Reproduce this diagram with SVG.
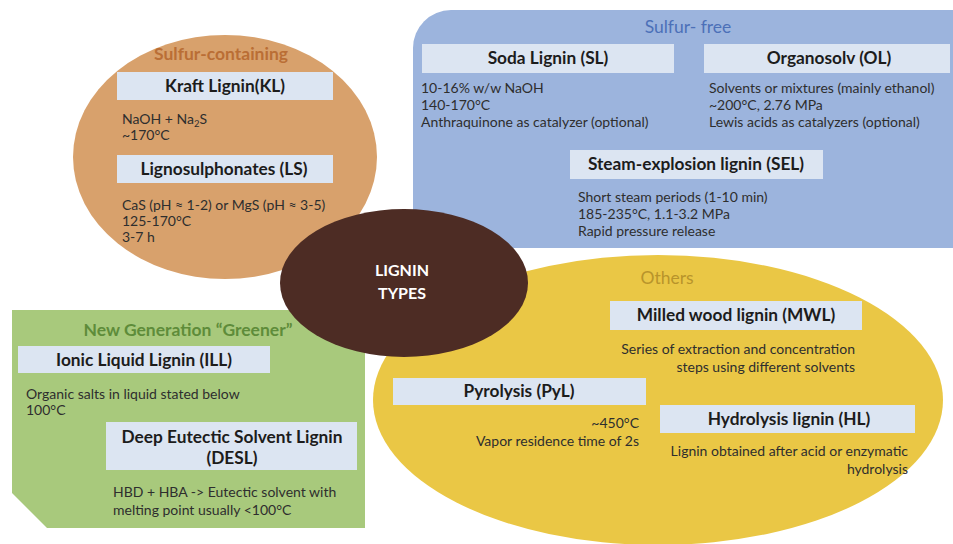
<svg xmlns="http://www.w3.org/2000/svg" width="953" height="544" viewBox="0 0 953 544">
<style>
.lb{fill:#DCE5F2}
.t{font-family:Lato,"Liberation Sans",sans-serif;font-weight:bold;font-size:17.3px;fill:#1C1C1C;text-anchor:middle}
.b{font-family:Lato,"Liberation Sans",sans-serif;font-size:14px;fill:#2E2E2E}
.e{text-anchor:end}
.h{font-family:Lato,"Liberation Sans",sans-serif;font-size:17.5px;text-anchor:middle}
</style>
<rect width="953" height="544" fill="#fff"/>
<g id="sulfur-containing">
<ellipse cx="225" cy="157" rx="152" ry="122" fill="#D8A16C"/>
<text class="h" x="221" y="60" font-weight="bold" fill="#BA6E35">Sulfur-containing</text>
<rect class="lb" x="117" y="72" width="216" height="28"/>
<text class="t" x="225" y="92">Kraft Lignin(KL)</text>
<text class="b" x="122" y="124">NaOH + Na<tspan font-size="9.5" dy="3">2</tspan><tspan dy="-3">S</tspan></text>
<text class="b" x="122" y="140">~170°C</text>
<rect class="lb" x="117" y="155" width="216" height="28"/>
<text class="t" x="224" y="175">Lignosulphonates (LS)</text>
<text class="b" x="122" y="210">CaS (pH ≈ 1-2) or MgS (pH ≈ 3-5)</text>
<text class="b" x="122" y="226">125-170°C</text>
<text class="b" x="122" y="242">3-7 h</text>
</g>
<g id="sulfur-free">
<rect x="413" y="10" width="590" height="238" rx="38" fill="#9CB4DD"/>
<text class="h" x="688" y="33" fill="#4C70B8">Sulfur- free</text>
<rect class="lb" x="422" y="44" width="252" height="29"/>
<text class="t" x="548" y="64">Soda Lignin (SL)</text>
<text class="b" x="421" y="93">10-16% w/w NaOH</text>
<text class="b" x="421" y="110">140-170°C</text>
<text class="b" x="421" y="127">Anthraquinone as catalyzer (optional)</text>
<rect class="lb" x="704" y="44" width="246" height="29"/>
<text class="t" x="829" y="64">Organosolv (OL)</text>
<text class="b" x="709" y="93">Solvents or mixtures (mainly ethanol)</text>
<text class="b" x="709" y="110">~200°C, 2.76 MPa</text>
<text class="b" x="709" y="127">Lewis acids as catalyzers (optional)</text>
<rect class="lb" x="570" y="150" width="253" height="29"/>
<text class="t" x="696" y="170">Steam-explosion lignin (SEL)</text>
<text class="b" x="578" y="202">Short steam periods (1-10 min)</text>
<text class="b" x="578" y="219">185-235°C, 1.1-3.2 MPa</text>
<text class="b" x="578" y="236">Rapid pressure release</text>
</g>
<g id="greener">
<polygon points="12,310 365,310 365,528 47,528 12,493" fill="#A8C97C"/>
<text class="h" x="188" y="336" font-weight="bold" fill="#5E8C3A">New Generation “Greener”</text>
<rect class="lb" x="18" y="346" width="252" height="27"/>
<text class="t" x="144" y="366">Ionic Liquid Lignin (ILL)</text>
<text class="b" x="26" y="399">Organic salts in liquid stated below</text>
<text class="b" x="26" y="415">100°C</text>
<rect class="lb" x="106" y="422" width="251" height="48"/>
<text class="t" x="232" y="443">Deep Eutectic Solvent Lignin</text>
<text class="t" x="232" y="464">(DESL)</text>
<text class="b" x="113" y="497">HBD + HBA -&gt; Eutectic solvent with</text>
<text class="b" x="113" y="515">melting point usually &lt;100°C</text>
</g>
<g id="others">
<ellipse cx="658" cy="400" rx="285" ry="145" fill="#EAC745"/>
<text class="h" x="667" y="284" fill="#B8942B">Others</text>
<rect class="lb" x="610" y="301" width="252" height="29"/>
<text class="t" x="736" y="321">Milled wood lignin (MWL)</text>
<text class="b e" x="855" y="354">Series of extraction and concentration</text>
<text class="b e" x="855" y="372">steps using different solvents</text>
<rect class="lb" x="393" y="378" width="253" height="27"/>
<text class="t" x="519" y="397">Pyrolysis (PyL)</text>
<text class="b e" x="639" y="428">~450°C</text>
<text class="b e" x="639" y="446">Vapor residence time of 2s</text>
<rect class="lb" x="660" y="405" width="255" height="28"/>
<text class="t" x="789" y="425">Hydrolysis lignin (HL)</text>
<text class="b e" x="908" y="456">Lignin obtained after acid or enzymatic</text>
<text class="b e" x="908" y="474">hydrolysis</text>
</g>
<g id="lignin-types">
<ellipse cx="404" cy="283" rx="124" ry="74" fill="#4D2C24"/>
<text class="t" x="402" y="276" style="fill:#fff;font-size:16px">LIGNIN</text>
<text class="t" x="402" y="299" style="fill:#fff;font-size:16px">TYPES</text>
</g>
<g id="connectors"/>
</svg>
